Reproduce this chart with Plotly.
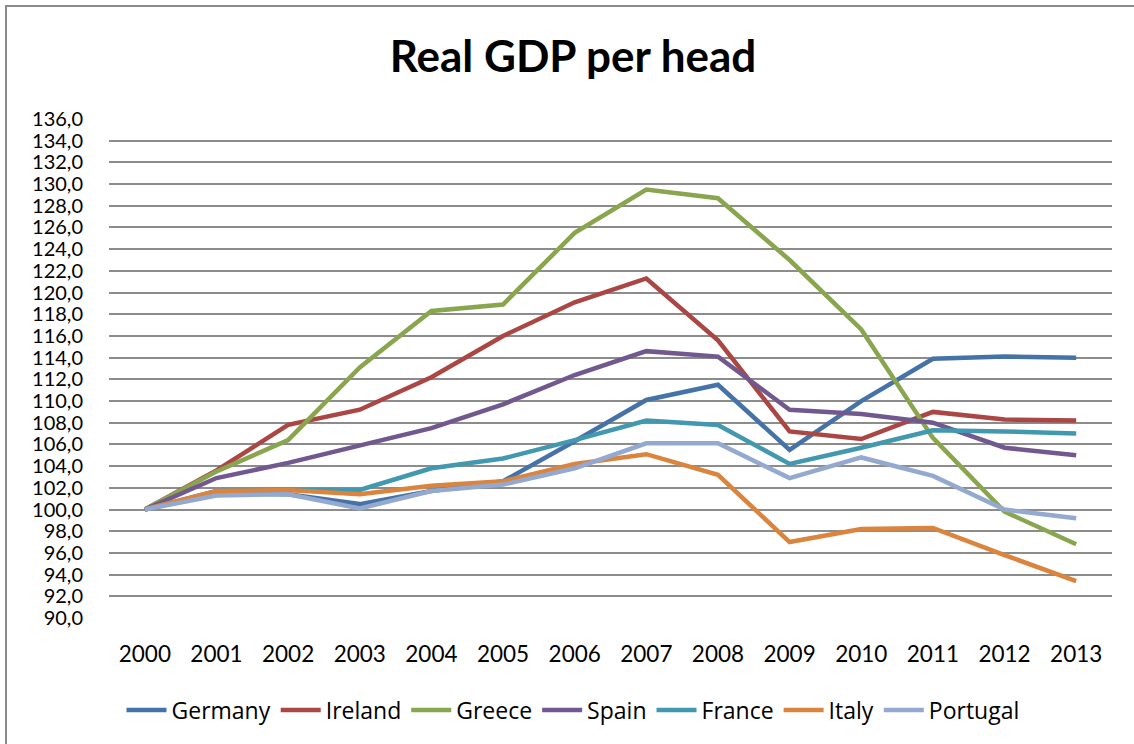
import plotly.graph_objects as go

years = [str(y) for y in range(2000, 2014)]

germany = [100.0, 101.5, 101.4, 100.5, 101.7, 102.6, 106.3, 110.1, 111.5, 105.5, 110.0, 113.9, 114.1, 114.0]
ireland = [100.0, 103.6, 107.8, 109.2, 112.2, 116.0, 119.1, 121.3, 115.6, 107.2, 106.5, 109.0, 108.3, 108.2]
greece = [100.0, 103.5, 106.4, 113.1, 118.3, 118.9, 125.5, 129.5, 128.7, 123.0, 116.6, 106.6, 99.8, 96.8]
spain = [100.0, 102.9, 104.3, 105.9, 107.5, 109.7, 112.4, 114.6, 114.1, 109.2, 108.8, 108.0, 105.7, 105.0]
france = [100.0, 101.7, 101.8, 101.8, 103.8, 104.7, 106.4, 108.2, 107.8, 104.2, 105.7, 107.3, 107.2, 107.0]
italy = [100.0, 101.7, 101.8, 101.4, 102.2, 102.6, 104.2, 105.1, 103.2, 97.0, 98.2, 98.3, 95.8, 93.4]
portugal = [100.0, 101.3, 101.4, 100.1, 101.7, 102.3, 103.8, 106.1, 106.1, 102.9, 104.8, 103.1, 100.0, 99.2]

series = [
    ("Germany", germany, "#4572A7"),
    ("Ireland", ireland, "#AA4643"),
    ("Greece", greece, "#89A54E"),
    ("Spain", spain, "#71588F"),
    ("France", france, "#4198AF"),
    ("Italy", italy, "#DB843D"),
    ("Portugal", portugal, "#93A9CF"),
]

TITLE_FONT = "Lato"
TICK_FONT = "Lato"
LEGEND_FONT = "Open Sans"

fig = go.Figure()
for name, vals, color in series:
    fig.add_trace(go.Scatter(
        x=years, y=vals, name=name, mode="lines",
        line=dict(color=color, width=4.5),
    ))

W, H = 1134, 744
L, R, T, B = 109, 22, 119, 126
pw, ph = W - L - R, H - T - B

def px_x(p):
    return (p - L) / pw

def px_y(p):
    return (H - B - p) / ph

fig.update_layout(
    width=W, height=H,
    margin=dict(l=L, r=R, t=T, b=B, autoexpand=False),
    paper_bgcolor="white", plot_bgcolor="white",
    separators=", ",
    font=dict(family=TICK_FONT, color="black", size=20),
    title=dict(
        text="<b>Real GDP per head</b>",
        font=dict(family=TITLE_FONT, size=44, color="black"),
        x=573 / W, xanchor="center", xref="container",
        y=1 - 57 / H, yanchor="middle", yref="container",
    ),
    xaxis=dict(
        type="category", range=[-0.5, 13.5],
        showgrid=False, showline=False, zeroline=False,
        ticks="", ticklabelstandoff=20,
        tickfont=dict(family=TICK_FONT, size=22.5, color="black"),
    ),
    yaxis=dict(
        range=[90, 136], dtick=2, tick0=90, tickformat=".1f",
        showgrid=True, gridcolor="#8c8c8c", gridwidth=1.6,
        showline=False, zeroline=False,
        ticks="", ticklabelstandoff=25,
        tickfont=dict(family=TICK_FONT, size=20, color="black"),
    ),
    legend=dict(
        orientation="h",
        x=573 / W, xanchor="center", xref="container",
        y=1 - 710 / H, yanchor="middle", yref="container",
        font=dict(family=LEGEND_FONT, size=23, color="black"),
        itemwidth=40,
    ),
    showlegend=True,
    shapes=[dict(
        type="rect", xref="paper", yref="paper",
        x0=px_x(6), x1=px_x(W + 10), y0=px_y(H + 10), y1=px_y(6),
        line=dict(color="#8a8a8a", width=2), fillcolor="rgba(0,0,0,0)",
        layer="below",
    )],
)

fig.write_html("out.html")
